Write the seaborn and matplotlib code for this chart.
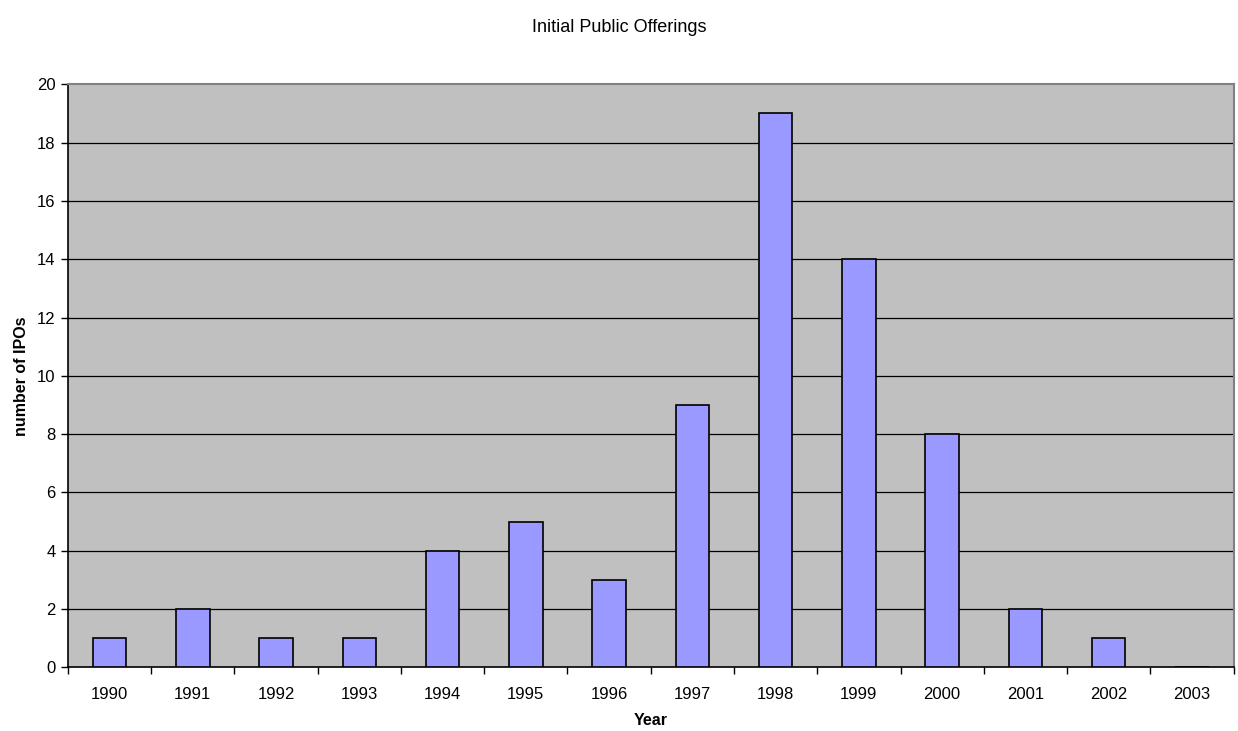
import matplotlib
matplotlib.use("Agg")
import matplotlib.pyplot as plt
import numpy as np
import pandas as pd
import seaborn as sns

years = ["1990", "1991", "1992", "1993", "1994", "1995", "1996",
         "1997", "1998", "1999", "2000", "2001", "2002", "2003"]
ipos = [1, 2, 1, 1, 4, 5, 3, 9, 19, 14, 8, 2, 1, 0]
y_ticks = [0, 2, 4, 6, 8, 10, 12, 14, 16, 18, 20]

sns.set_theme(style="white")
plt.rcParams["font.family"] = ["Liberation Sans", "DejaVu Sans"]
plt.rcParams["text.color"] = "black"
plt.rcParams["axes.labelcolor"] = "black"
plt.rcParams["xtick.color"] = "black"
plt.rcParams["ytick.color"] = "black"

df = pd.DataFrame({"Year": years, "IPOs": ipos})

fig = plt.figure(figsize=(12.38, 7.31), dpi=100)
ax = fig.add_axes([0.0549, 0.0871, 0.9415, 0.7976])
ax.set_facecolor("#C0C0C0")

sns.barplot(data=df, x="Year", y="IPOs", color="#9999FF", saturation=1,
            width=0.4, edgecolor="black", linewidth=1.2, ax=ax, zorder=3)

ax.set_xlim(-0.5, len(years) - 0.5)
ax.set_ylim(0, 20)
ax.set_yticks(y_ticks)
ax.set_yticklabels([str(v) for v in y_ticks], fontsize=12)

# category boundaries carry the tick marks; labels sit between them
ax.set_xticks(np.arange(len(years)))
ax.set_xticklabels(years, fontsize=12)
ax.set_xticks(np.arange(len(years) + 1) - 0.5, minor=True)
ax.tick_params(axis="x", which="major", length=0, pad=14, labelcolor="black")
ax.tick_params(axis="x", which="minor", length=5, width=1, color="black",
               direction="out", bottom=True)
ax.tick_params(axis="y", which="major", length=5, width=1, color="black",
               direction="out", left=True, pad=4, labelcolor="black")

for v in y_ticks[1:-1]:
    ax.axhline(v, color="black", linewidth=0.9, zorder=1)

for side in ["left", "bottom"]:
    ax.spines[side].set_color("black")
    ax.spines[side].set_linewidth(1.2)
for side in ["top", "right"]:
    ax.spines[side].set_color("#808080")
    ax.spines[side].set_linewidth(1.5)
    ax.spines[side].set_visible(True)

ax.set_xlabel("Year", fontsize=11.5, fontweight="bold", labelpad=8,
              color="black")
ax.set_ylabel("number of IPOs", fontsize=11.5, fontweight="bold", labelpad=6,
              color="black")
fig.text(0.5, 0.962, "Initial Public Offerings", ha="center", va="center",
         fontsize=13, color="black")

fig.savefig("out.png", dpi=100)
